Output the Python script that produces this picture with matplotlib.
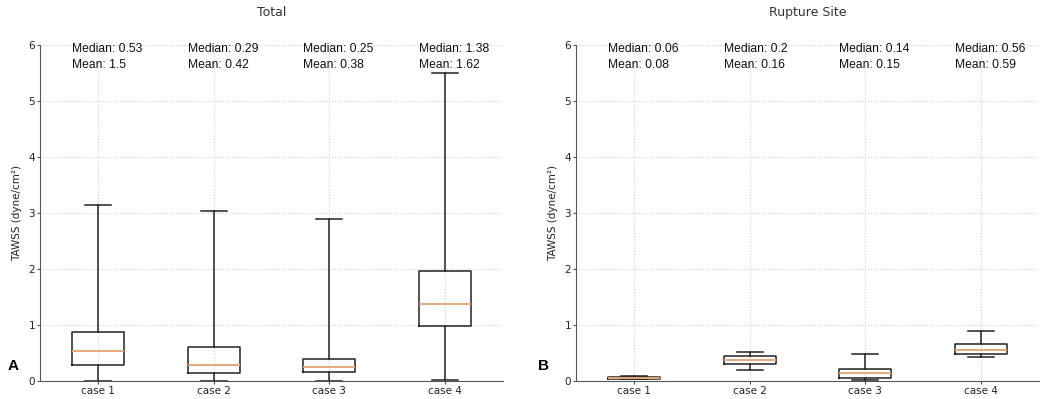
import matplotlib.pyplot as plt

cases = ["case 1", "case 2", "case 3", "case 4"]

# whisker low, q1, median, q3, whisker high
total_low = [0.0, 0.0, 0.0, 0.01]
total_q1 = [0.29, 0.15, 0.16, 0.98]
total_med = [0.53, 0.29, 0.25, 1.38]
total_q3 = [0.88, 0.61, 0.40, 1.96]
total_high = [3.15, 3.03, 2.90, 5.50]
total_median_txt = ["0.53", "0.29", "0.25", "1.38"]
total_mean_txt = ["1.5", "0.42", "0.38", "1.62"]

rup_low = [0.03, 0.20, 0.01, 0.42]
rup_q1 = [0.04, 0.31, 0.06, 0.49]
rup_med = [0.06, 0.38, 0.14, 0.56]
rup_q3 = [0.07, 0.45, 0.22, 0.66]
rup_high = [0.09, 0.51, 0.49, 0.90]
rup_median_txt = ["0.06", "0.2", "0.14", "0.56"]
rup_mean_txt = ["0.08", "0.16", "0.15", "0.59"]

plt.rcParams['font.family'] = ['DejaVu Sans']

fig = plt.figure(figsize=(10.49, 3.99), dpi=100)
axA = fig.add_axes([40 / 1049, 1 - 381 / 399, 463 / 1049, 336 / 399])
axB = fig.add_axes([576 / 1049, 1 - 381 / 399, 463 / 1049, 336 / 399])


def draw(ax, low, q1, med, q3, high, medtxt, meantxt, title, letter, lx):
    stats = []
    for i in range(len(cases)):
        stats.append({'whislo': low[i], 'q1': q1[i], 'med': med[i],
                      'q3': q3[i], 'whishi': high[i], 'label': cases[i]})
    pos = list(range(1, len(cases) + 1))
    ax.bxp(stats, positions=pos, widths=0.45, showfliers=False,
           boxprops=dict(color='#222222', linewidth=1.1),
           whiskerprops=dict(color='#222222', linewidth=1.1),
           capprops=dict(color='#222222', linewidth=1.1),
           medianprops=dict(color='#e8a878', linewidth=1.4))
    ax.set_xlim(0.5, 4.5)
    ax.set_ylim(0, 6)
    ax.set_yticks(range(7))
    ax.grid(True, linestyle=':', color='#cccccc', linewidth=0.8)
    ax.set_axisbelow(True)
    for s in ['top', 'right']:
        ax.spines[s].set_visible(False)
    for s in ['left', 'bottom']:
        ax.spines[s].set_color('#555555')
    ax.tick_params(labelsize=7.5, length=2, pad=1.5, color='#555555',
                   labelcolor='#222222')
    ax.set_ylabel("TAWSS (dyne/cm²)", fontsize=7.5, labelpad=5, color='#222222')
    ax.set_title(title, fontsize=9, pad=21, color='#333333')
    for i, p in enumerate(pos):
        ax.text(p - 0.225, 6.03, "Median: " + medtxt[i] + "\nMean: " + meantxt[i],
                fontsize=8.7, va='top', ha='left', linespacing=1.45,
                family='Liberation Sans', color='#111111')
    ax.text(lx, 0.045, letter, transform=ax.transAxes, fontsize=11,
            fontweight='bold', ha='left', va='center', family='Liberation Sans')


draw(axA, total_low, total_q1, total_med, total_q3, total_high,
     total_median_txt, total_mean_txt, "Total", "A", -0.069)
draw(axB, rup_low, rup_q1, rup_med, rup_q3, rup_high,
     rup_median_txt, rup_mean_txt, "Rupture Site", "B", -0.082)

fig.savefig("out.png", dpi=100)
